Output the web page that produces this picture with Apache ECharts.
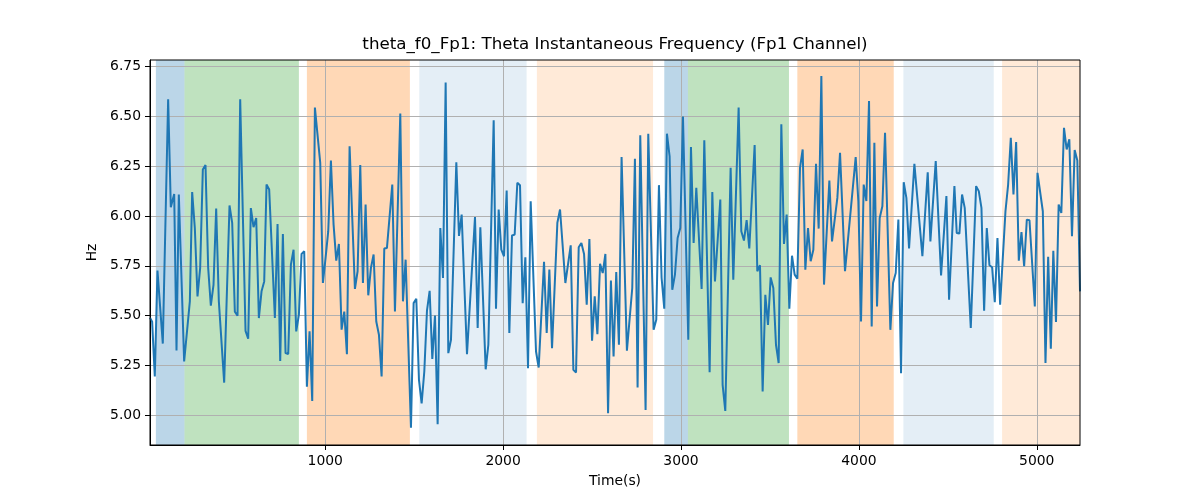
<!DOCTYPE html>
<html>
<head>
<meta charset="utf-8">
<script src="https://cdn.jsdelivr.net/npm/echarts@6/dist/echarts.min.js"></script>
<style>html,body{margin:0;padding:0;background:#fff}#c{width:1200px;height:500px}</style>
</head>
<body>
<div id="c"></div>
<script>
// ---- data ----
const times = [
  15, 27, 42, 57, 87, 117, 132, 151, 164, 177, 207, 239, 252, 267, 282, 297, 312, 327, 342, 357,
  372, 387, 402, 432, 462, 477, 492, 507, 522, 552, 567, 582, 597, 612, 627, 642, 657,
  670, 685, 717, 732, 747, 762, 777, 792, 807, 822, 837, 852, 867, 882, 897, 912, 927, 942, 972,
  987, 1002, 1017, 1032, 1047, 1062, 1077, 1092, 1107, 1122, 1137, 1152, 1167, 1182, 1197, 1212,
  1227, 1242, 1257, 1272, 1287, 1302,
  1317, 1332, 1347, 1377, 1392, 1422, 1437, 1452, 1482, 1497, 1512, 1527, 1542, 1557, 1572, 1587,
  1602, 1617, 1632, 1647, 1662, 1677, 1692, 1707, 1737, 1752, 1767, 1797, 1842, 1857, 1872, 1902,
  1917, 1947,
  1960, 1975, 1990, 2005, 2020, 2035, 2050, 2065, 2080, 2095, 2110, 2125, 2140, 2155, 2185, 2200,
  2230, 2245, 2260, 2275, 2305, 2320, 2350, 2380, 2395, 2410, 2425, 2440, 2455, 2470, 2485, 2500,
  2515, 2530, 2545, 2560, 2575, 2590,
  2606, 2621, 2636, 2651, 2666, 2696, 2726, 2741, 2756, 2771, 2801, 2816, 2846, 2861, 2876, 2891,
  2906, 2921, 2936, 2951, 2966, 2981, 2996, 3011, 3041, 3056, 3071, 3086, 3116, 3131, 3161, 3176,
  3191, 3221,
  3234, 3249, 3279, 3294, 3324, 3339, 3354, 3369, 3384, 3414, 3429, 3444, 3459, 3474, 3489, 3504,
  3519, 3534, 3549, 3564, 3579, 3594, 3609, 3624, 3639, 3654, 3669, 3684, 3699, 3714, 3729, 3744,
  3759, 3774, 3789, 3804, 3834, 3849, 3879, 3894,
  3922, 3982, 3997, 4012, 4027, 4042, 4057, 4072, 4087, 4102, 4117, 4132, 4147, 4177, 4192, 4207,
  4222, 4237, 4252, 4267, 4282, 4312, 4357, 4387, 4402, 4432, 4462, 4492, 4507, 4537,
  4550, 4565, 4580, 4595, 4629, 4659, 4674, 4689, 4704, 4719, 4734, 4749, 4764, 4779, 4794, 4824,
  4839, 4854, 4869, 4884, 4899, 4914, 4929, 4944, 4959, 4989, 5004, 5034, 5049, 5064, 5079, 5093,
  5108, 5123, 5138, 5153, 5168, 5183, 5198, 5213, 5228, 5243
];
const hz = [
  5.49, 5.47, 5.195, 5.726, 5.36, 6.586, 6.044, 6.111, 5.325, 6.108, 5.27, 5.572, 6.12, 5.94, 5.597, 5.74, 6.234, 6.256, 5.74, 5.55,
  5.655, 6.038, 5.572, 5.164, 6.053, 5.966, 5.52, 5.50, 6.586, 5.424, 5.384, 6.04, 5.944, 5.99, 5.488, 5.622, 5.672,
  6.158, 6.133, 5.488, 5.96, 5.273, 5.91, 5.312, 5.308, 5.756, 5.831, 5.421, 5.505, 5.81, 5.823, 5.144, 5.421, 5.072, 6.544, 6.267,
  5.664, 5.79, 5.924, 6.279, 5.957, 5.776, 5.86, 5.43, 5.52, 5.307, 6.35, 5.99, 5.634, 5.723, 6.256, 5.664,
  6.058, 5.602, 5.74, 5.807, 5.471, 5.404,
  5.195, 5.837, 5.84, 6.158, 5.521, 6.514, 5.572, 5.781, 4.938, 5.563, 5.585, 5.178, 5.06, 5.22, 5.525, 5.625,
  5.283, 5.501, 4.955, 5.94, 5.689, 6.67, 5.312, 5.379, 6.27, 5.90, 6.007, 5.307, 5.995, 5.438, 5.944, 5.231,
  5.354, 6.48,
  5.535, 6.033, 5.831, 5.798, 6.128, 5.413, 5.902, 5.907, 6.167, 6.155, 5.563, 5.793, 5.236, 6.074, 5.32, 5.24,
  5.77, 5.413, 5.731, 5.337, 5.966, 6.033, 5.664, 5.853, 5.228, 5.215, 5.843, 5.865, 5.81, 5.555, 5.885, 5.374,
  5.597, 5.407, 5.76, 5.714, 5.81, 5.01,
  5.676, 5.295, 5.719, 5.354, 6.296, 5.324, 5.639, 6.287, 5.139, 6.405, 5.027, 6.413, 5.429, 5.479, 6.155, 5.689,
  5.535, 6.413, 6.30, 5.63, 5.706, 5.89, 5.94, 6.499, 5.379, 6.346, 5.865, 6.142, 5.634, 6.38, 5.216, 6.121,
  5.672, 6.083,
  5.153, 5.022, 6.242, 5.681, 6.544, 5.924, 5.877, 5.979, 5.837, 6.356, 5.723, 5.753, 5.119, 5.605, 5.454, 5.692,
  5.639, 5.354, 5.262, 6.46, 5.86, 6.007, 5.535, 5.801, 5.706, 5.686, 6.242, 6.334, 5.731, 5.94, 5.773, 5.831,
  6.262, 5.937, 6.703, 5.656, 6.178, 5.873, 6.091, 6.317,
  5.723, 6.296, 6.075, 5.471, 6.158, 6.075, 6.577, 5.446, 6.368, 5.546, 5.99, 6.049, 6.418, 5.429, 5.664, 5.714,
  5.982, 5.211, 6.17, 6.091, 5.837, 6.262, 5.798, 6.22, 5.873, 6.276, 5.702, 6.10, 5.58, 6.15,
  5.915, 5.912, 6.108, 6.041, 5.438, 6.15, 6.125, 6.041, 5.525, 5.94, 5.753, 5.743, 5.568, 5.89, 5.555, 6.024,
  6.158, 6.393, 6.108, 6.371, 5.776, 5.919, 5.748, 5.982, 5.979, 5.546, 6.217, 6.024, 5.262, 5.795, 5.334, 5.826,
  5.468, 6.058, 6.016, 6.443, 6.334, 6.385, 5.899, 6.331, 6.279, 5.622
];
// shaded periods (seconds) and their kind
const bandStart = [48, 209, 897, 1529, 2190, 2906, 3039, 3654, 4250, 4805];
const bandEnd   = [209, 852, 1476, 2132, 2843, 3039, 3607, 4196, 4758, 5243];
const bandKind  = ['blue', 'green', 'orange', 'lightblue', 'lightorange', 'blue', 'green', 'orange', 'lightblue', 'lightorange'];
const xTicks = [1000, 2000, 3000, 4000, 5000];
const yTicks = [5.00, 5.25, 5.50, 5.75, 6.00, 6.25, 6.50, 6.75];
const titleText = 'theta_f0_Fp1: Theta Instantaneous Frequency (Fp1 Channel)';
const xName = 'Time(s)';
const yName = 'Hz';

// ---- styles ----
const bandColors = {
  blue: 'rgba(31,119,180,0.3)',
  green: 'rgba(44,160,44,0.3)',
  orange: 'rgba(255,127,14,0.3)',
  lightblue: 'rgba(31,119,180,0.12)',
  lightorange: 'rgba(255,127,14,0.16)'
};
const FONT = 'DejaVu Sans';

const lineData = times.map((t, i) => [t, hz[i]]);
const areas = bandStart.map((s, i) => [
  { xAxis: s, itemStyle: { color: bandColors[bandKind[i]] } },
  { xAxis: bandEnd[i] }
]);

const chart = echarts.init(document.getElementById('c'), null, { renderer: 'canvas' });
chart.setOption({
  animation: false,
  backgroundColor: '#ffffff',
  title: {
    text: titleText,
    left: 615,
    top: 36,
    padding: 0,
    textAlign: 'center',
    textStyle: { fontFamily: FONT, fontSize: 16.7, fontWeight: 'normal', color: '#000' }
  },
  grid: {
    left: 150, right: 120, top: 60, bottom: 55,
    show: true, borderColor: '#000', borderWidth: 1, backgroundColor: 'transparent', z: 4
  },
  xAxis: {
    type: 'value',
    z: 2,
    min: 15, max: 5243,
    name: xName,
    nameLocation: 'middle',
    nameGap: 29,
    nameTextStyle: { fontFamily: FONT, fontSize: 13.9, color: '#000' },
    axisLine: { show: true, onZero: false, lineStyle: { color: '#000', width: 1 } },
    axisTick: { show: true, length: 5, customValues: xTicks, lineStyle: { color: '#000' } },
    axisLabel: {
      customValues: xTicks, margin: 9, fontFamily: FONT, fontSize: 13.9, color: '#000',
      formatter: v => String(Math.round(v))
    },
    splitLine: { show: true, lineStyle: { color: '#b0b0b0', width: 1 } }
  },
  yAxis: {
    type: 'value',
    z: 2,
    min: 4.851, max: 6.783,
    name: yName,
    nameLocation: 'middle',
    nameGap: 48,
    nameRotate: 90,
    nameTextStyle: { fontFamily: FONT, fontSize: 13.9, color: '#000' },
    axisLine: { show: true, onZero: false, lineStyle: { color: '#000', width: 1 } },
    axisTick: { show: true, length: 5, customValues: yTicks, lineStyle: { color: '#000' } },
    axisLabel: {
      customValues: yTicks, margin: 9, fontFamily: FONT, fontSize: 13.9, color: '#000',
      formatter: v => Number(v).toFixed(2)
    },
    splitLine: { show: true, lineStyle: { color: '#b0b0b0', width: 1 } }
  },
  series: [{
    type: 'line',
    name: 'bands',
    data: [],
    z: 1,
    silent: true,
    markArea: { silent: true, data: areas }
  }, {
    type: 'line',
    name: 'freq',
    data: lineData,
    showSymbol: false,
    symbol: 'none',
    lineStyle: { color: '#1f77b4', width: 2 },
    itemStyle: { color: '#1f77b4' },
    z: 3
  }]
});
</script>
</body>
</html>
